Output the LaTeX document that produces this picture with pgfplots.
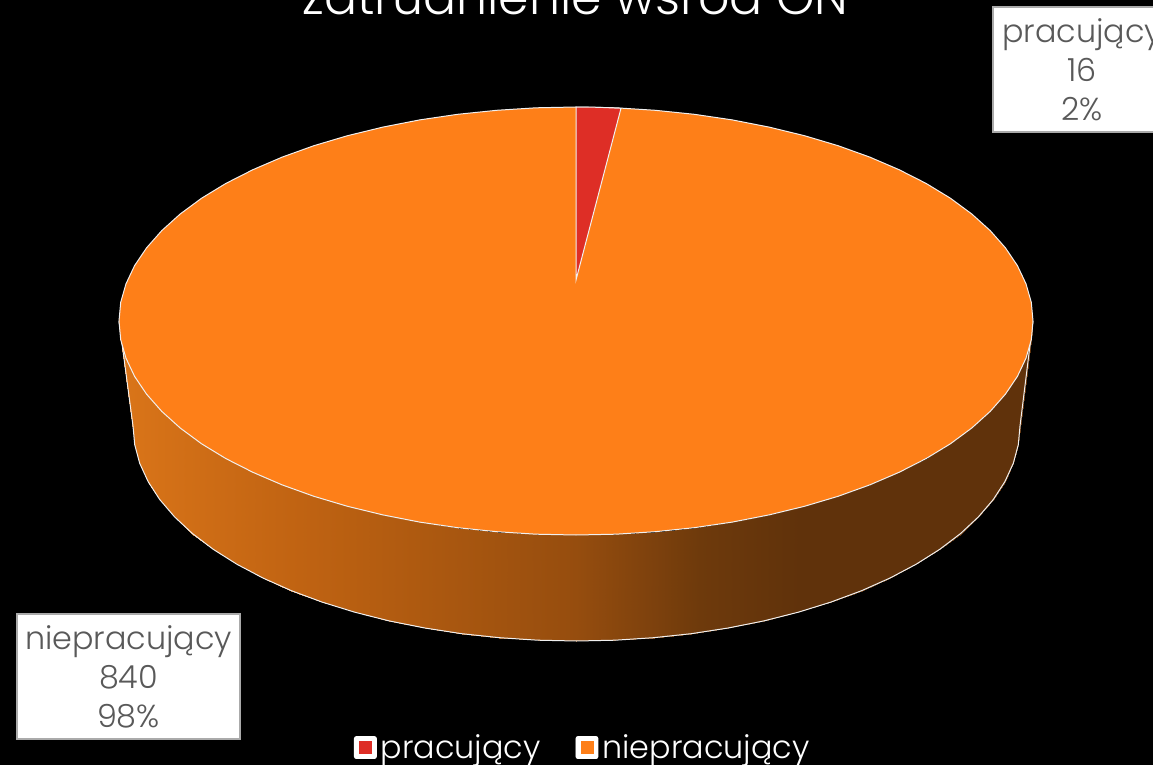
\documentclass[border=0pt]{standalone}
\usepackage{pgfplots}
\usepackage{pgfplotstable}
\usepackage{fontspec}
\setmainfont{Poppins Light}
\pgfplotsset{compat=1.18}
\definecolor{pieRed}{RGB}{222,46,38}
\definecolor{pieOrange}{RGB}{254,127,24}
\definecolor{edge}{RGB}{240,240,240}
\definecolor{lblText}{RGB}{89,89,89}
\definecolor{lblEdge}{RGB}{170,170,170}

% walls of the disc: upper rim left to right, then lower rim left to right
\pgfplotstableread{
x y
119 321
120.7 339.7
126 358.2
134.6 376.4
146.6 394.2
161.8 411.4
180.2 428
201.6 443.8
225.9 458.6
252.9 472.3
282.2 484.9
313.9 496.3
347.5 506.3
382.9 514.9
419.7 522.1
457.7 527.7
496.7 531.7
536.1 534.2
576 535
615.9 534.2
655.3 531.7
694.3 527.7
732.3 522.1
769.1 514.9
804.5 506.3
838.1 496.3
869.8 484.9
899.1 472.3
926.1 458.6
950.4 443.8
971.8 428
990.2 411.4
1005.4 394.2
1017.4 376.4
1026 358.2
1031.3 339.7
1033 321
133 426
134.7 444.7
139.7 463.3
148.1 481.6
159.7 499.5
174.6 516.9
192.4 533.5
213.2 549.3
236.8 564.2
262.9 578
291.4 590.7
322.1 602.1
354.7 612.2
389.1 620.9
424.8 628
461.7 633.7
499.5 637.7
537.8 640.2
576.5 641
615.2 640.2
653.5 637.7
691.3 633.7
728.2 628
763.9 620.9
798.3 612.2
830.9 602.1
861.6 590.7
890.1 578
916.2 564.2
939.8 549.3
960.6 533.5
978.4 516.9
993.3 499.5
1004.9 481.6
1013.3 463.3
1018.3 444.7
1020 426
}\sidetable

\begin{document}
\begin{tikzpicture}
\useasboundingbox (0,0) rectangle (576.5pt,382.5pt);
\clip (0,0) rectangle (576.5pt,382.5pt);
\fill[black] (0,0) rectangle (576.5pt,382.5pt);
\begin{axis}[
  scale only axis,
  width=576.5pt,
  height=382.5pt,
  xmin=0, xmax=1153,
  ymin=0, ymax=765,
  y dir=reverse,
  axis lines=none,
  clip=false,
  colormap={side}{rgb255(119pt)=(218,117,25) rgb255(300pt)=(192,99,18) rgb255(576pt)=(150,77,14) rgb255(700pt)=(110,58,12) rgb255(800pt)=(96,50,11) rgb255(1033pt)=(96,50,11)},
  point meta min=119, point meta max=1033,
  legend columns=2,
  legend cell align=left,
  legend style={at={(354/1153,0)},anchor=south west,draw=none,fill=none,
    text=white,font=\fontsize{15.9}{19}\selectfont,inner sep=0pt,outer sep=0pt,
    /tikz/every even column/.append style={column sep=15.5pt}},
]
% side wall
\addplot[surf,shader=interp,mesh/rows=2,mesh/cols=37,point meta=x,forget plot] table[x=x,y=y] {\sidetable};
% lower rim and silhouette
\addplot[no marks,edge,line width=.5pt,forget plot,skip coords between index={0}{37}] table[x=x,y=y] {\sidetable};
\addplot[no marks,edge,line width=.5pt,forget plot] coordinates {(119,321) (133,426)};
\addplot[no marks,edge,line width=.5pt,forget plot] coordinates {(1033,321) (1020,426)};
% top face, niepracujacy
\addplot[fill=pieOrange,draw=edge,line width=.5pt,forget plot] coordinates {
(119,321) (120.7,339.7) (126,358.2) (134.6,376.4) (146.6,394.2) (161.8,411.4) (180.2,428) (201.6,443.8)
(225.9,458.6) (252.9,472.3) (282.2,484.9) (313.9,496.3) (347.5,506.3) (382.9,514.9) (419.7,522.1)
(457.7,527.7) (496.7,531.7) (536.1,534.2) (576,535) (615.9,534.2) (655.3,531.7) (694.3,527.7)
(732.3,522.1) (769.1,514.9) (804.5,506.3) (838.1,496.3) (869.8,484.9) (899.1,472.3) (926.1,458.6)
(950.4,443.8) (971.8,428) (990.2,411.4) (1005.4,394.2) (1017.4,376.4) (1026,358.2) (1031.3,339.7)
(1033,321) (1031.3,302.3) (1026,283.8) (1017.4,265.6) (1005.4,247.8) (990.2,230.6) (971.8,214)
(950.4,198.2) (926.1,183.4) (899.1,169.7) (869.8,157.1) (838.1,145.7) (804.5,135.7) (769.1,127.1)
(732.3,119.9) (694.3,114.3) (655.3,110.3) (615.9,107.8) (576,107) (536.1,107.8) (496.7,110.3)
(457.7,114.3) (419.7,119.9) (382.9,127.1) (347.5,135.7) (313.9,145.7) (282.2,157.1) (252.9,169.7)
(225.9,183.4) (201.6,198.2) (180.2,214) (161.8,230.6) (146.6,247.8) (134.6,265.6) (126,283.8)
(120.7,302.3) (119,321)} -- cycle;
% top face, pracujacy
\addplot[fill=pieRed,draw=edge,line width=.5pt,forget plot] coordinates {
(576,280) (576,107) (599,107.3) (621,108.3) (576,280)} -- cycle;

\addlegendimage{legend image code/.code={
  \fill[white,rounded corners=1pt] (0pt,-5.5pt) rectangle (11pt,5.5pt);
  \fill[pieRed] (2.5pt,-3pt) rectangle (8.5pt,3pt);}}
\addlegendentry{pracujący}
\addlegendimage{legend image code/.code={
  \fill[white,rounded corners=1pt] (0pt,-5.5pt) rectangle (11pt,5.5pt);
  \fill[pieOrange] (2.5pt,-3pt) rectangle (8.5pt,3pt);}}
\addlegendentry{niepracujący}

% title, cut by the top edge as in the original
\node[text=white,anchor=base,inner sep=0pt,font=\fontsize{24.5}{30}\selectfont] at (axis cs:575.5,15) {zatrudnienie wśród ON};

% data labels
\filldraw[fill=white,draw=lblEdge,line width=1pt] (axis cs:993,7) rectangle (axis cs:1175,132);
\node[text=lblText,align=center,anchor=center,inner sep=0pt,font=\fontsize{15.9}{19.5}\selectfont] at (axis cs:1082,70) {pracujący\\16\\2\%};
\filldraw[fill=white,draw=lblEdge,line width=1pt] (axis cs:17,614) rectangle (axis cs:240,739);
\node[text=lblText,align=center,anchor=center,inner sep=0pt,font=\fontsize{15.9}{19.5}\selectfont] at (axis cs:128.5,677) {niepracujący\\840\\98\%};
\end{axis}
\end{tikzpicture}
\end{document}
